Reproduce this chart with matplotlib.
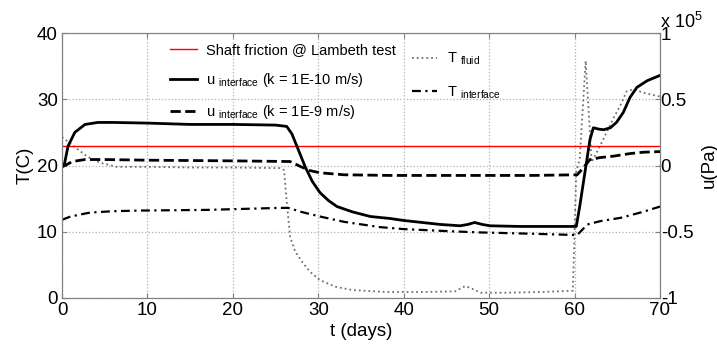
import matplotlib
matplotlib.use("Agg")
import matplotlib.pyplot as plt
from matplotlib.ticker import FuncFormatter
from matplotlib.lines import Line2D

plt.rcParams['font.family'] = 'Liberation Sans'
plt.rcParams['mathtext.fontset'] = 'custom'
plt.rcParams['mathtext.rm'] = 'Liberation Sans'
plt.rcParams['mathtext.it'] = 'Liberation Sans:italic'

# pore pressure at interface, k = 1E-10 m/s  (Pa)
t_u10 = [0, 0.3, 0.7, 1.5, 2.7, 4.2, 6, 10, 15, 20, 25, 26.3, 26.9, 27.5, 28.5, 29.3,
         30.2, 31.2, 32.2, 34, 36.1, 38.4, 40, 44.3, 46.6, 47.5, 48.3, 49.2, 50.1, 53.6,
         60.2, 60.6, 61.8, 62.2, 62.8, 63.4, 64.2, 64.9, 65.7, 66.5, 67.3, 68.5, 70]
u_10 = [-1000, 1500, 14500, 25000, 31000, 32500, 32500, 32000, 31000, 31000, 30500,
        29500, 24000, 14500, -1500, -12000, -20500, -26500, -31000, -35000, -38500,
        -40000, -41500, -44500, -45500, -44500, -43000, -44500, -45500, -46000,
        -46000, -31000, 19500, 28500, 27500, 27000, 28500, 32500, 40000, 51500,
        59000, 64000, 68000]

# pore pressure at interface, k = 1E-9 m/s  (Pa)
t_u9 = [0, 0.5, 1.2, 2.7, 5, 10, 20, 26.7, 28, 29, 30.2, 33, 38.4, 45, 55, 60.3, 61,
        61.8, 63, 64.5, 66.5, 68, 70]
u_9 = [-1000, 500, 3000, 4500, 4500, 4000, 3500, 3000, -1000, -3800, -5500, -7000,
       -7500, -7500, -7500, -7000, -2000, 4500, 6000, 7000, 9000, 10000, 10500]

# shaft friction @ Lambeth test (Pa)
shaft_friction = 14500

# fluid temperature (C)
t_fl = [0, 1, 2, 3, 4.5, 6.4, 10, 15, 20, 25.5, 26.0, 26.2, 26.4, 26.7, 27.3, 28.2,
        29, 30.2, 32, 34, 38, 42, 46, 47.2, 48, 49, 52, 56, 59.8, 60.0, 60.2, 60.6,
        61.3, 62.0, 63, 64.5, 65.4, 66.1, 66.9, 68, 70]
T_fl = [24.3, 23.3, 22.3, 21.3, 20.4, 19.8, 19.8, 19.7, 19.7, 19.6, 19.3, 16, 13.3,
        9.2, 7.0, 5.3, 4.0, 2.7, 1.7, 1.2, 0.9, 0.9, 1.0, 1.8, 1.4, 0.8, 0.8, 0.9, 1.1,
        10, 19, 21, 35.8, 20.5, 23, 27, 29.2, 31.2, 31.5, 31, 30.4]

# interface temperature (C)
t_if = [0, 1, 3.3, 6, 9.1, 17, 25.5, 26.5, 28, 30.2, 33, 37.2, 40, 45, 48.9, 55,
        60.3, 61.5, 63, 65.4, 68, 70]
T_if = [11.8, 12.3, 12.9, 13.1, 13.2, 13.3, 13.6, 13.6, 13.0, 12.3, 11.5, 10.7, 10.4,
        10.1, 9.9, 9.7, 9.5, 11.1, 11.6, 12.1, 13.0, 13.8]

fig = plt.figure(figsize=(7.17, 3.46), dpi=100)
ax = fig.add_axes([62/717, 48/346, 598/717, 265/346])
ax2 = ax.twinx()

grey = '#808080'
ax.plot(t_fl, T_fl, ':', color='#707070', lw=1.3)
ax.plot(t_if, T_if, color='black', lw=1.6, dashes=[4, 2, 1, 2])

ax2.axhline(shaft_friction, color='red', lw=1)
ax2.plot(t_u10, u_10, '-', color='black', lw=2)
ax2.plot(t_u9, u_9, '--', color='black', lw=2)

ax.set_xlim(0, 70)
ax.set_ylim(0, 40)
ax2.set_ylim(-1e5, 1e5)
ax.set_xticks(range(0, 71, 10))
ax.set_yticks(range(0, 41, 10))
ax2.set_yticks([-1e5, -0.5e5, 0, 0.5e5, 1e5])
ax2.yaxis.set_major_formatter(FuncFormatter(lambda v, p: f'{v/1e5:g}'))

ax.grid(True, linestyle=':', color='#b0b0b0', lw=0.9)
for a in (ax, ax2):
    for s in a.spines.values():
        s.set_color(grey)
ax.tick_params(direction='in', top=True, color=grey, labelsize=13.5, pad=3)
ax2.tick_params(direction='in', color=grey, labelsize=13.5, pad=0.5)

ax.set_xlabel('t (days)', fontsize=13.5, labelpad=3)
ax.set_ylabel('T(C)', fontsize=13.5, labelpad=2)
ax2.set_ylabel('u(Pa)', fontsize=13.5, labelpad=5)
ax2.text(1.0, 1.005, r'x 10$^5$', transform=ax2.transAxes, fontsize=13,
         ha='left', va='bottom')

h_left = [Line2D([], [], color='red', lw=1),
          Line2D([], [], color='black', lw=2),
          Line2D([], [], color='black', lw=2, ls='--')]
l_left = ['Shaft friction @ Lambeth test',
          r'u $_{\rm interface}$ (k = 1E-10 m/s)',
          r'u $_{\rm interface}$ (k = 1E-9 m/s)']
leg1 = ax2.legend(h_left, l_left, loc='upper left', bbox_to_anchor=(170/717, 1 - 43/346),
                  bbox_transform=fig.transFigure, frameon=False, fontsize=10.5,
                  handlelength=1.85, handletextpad=0.6, borderpad=0, borderaxespad=0,
                  labelspacing=0.95)
ax2.add_artist(leg1)

h_right = [Line2D([], [], color='#707070', lw=1.3, ls=':'),
           Line2D([], [], color='black', lw=1.6, dashes=[4, 2, 1, 2])]
l_right = [r'T $_{\rm fluid}$', r'T $_{\rm interface}$']
ax2.legend(h_right, l_right, loc='upper left', bbox_to_anchor=(412/717, 1 - 51/346),
           bbox_transform=fig.transFigure, frameon=False, fontsize=10.5,
           handlelength=1.7, handletextpad=0.7, borderpad=0, borderaxespad=0,
           labelspacing=1.15)

fig.savefig('out.png', dpi=100)
